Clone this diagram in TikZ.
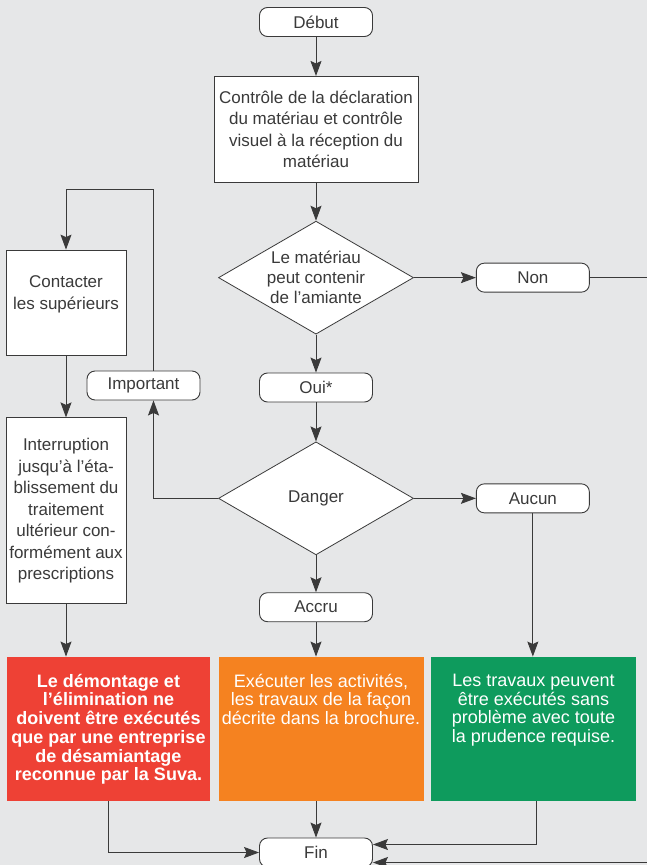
\documentclass[tikz,border=0pt]{standalone}
\usepackage{fontspec}
\setmainfont{Liberation Sans}
\usetikzlibrary{arrows.meta}
\usetikzlibrary{positioning, shapes.geometric, calc}

\definecolor{bg}{HTML}{E6E7E8}
\definecolor{ink}{HTML}{3A3A3A}
\definecolor{warnred}{HTML}{EE4135}
\definecolor{warnorange}{HTML}{F58220}
\definecolor{warngreen}{HTML}{0E9B5D}

% text block pinned to the top of a box
\newcommand{\flowcell}[4]{\parbox[c][#1][t]{#2}{\centering\vspace*{#3}#4}}

\begin{document}
\begin{tikzpicture}[
  x=1pt, y=-1pt,
  -{Stealth[length=15pt,width=11pt,inset=2.5pt]}, line width=0.9pt, draw=ink, color=ink,
  node distance=37pt,
  every node/.style={font=\fontsize{17}{21.5}\selectfont, text=ink},
  term/.style={rectangle, rounded corners=8pt, draw=ink, fill=white, line width=0.9pt,
    minimum width=113pt, minimum height=29pt, inner sep=0pt},
  box/.style={rectangle, draw=ink, fill=white, line width=0.8pt, align=center, inner sep=2pt},
  test/.style={diamond, aspect=1.72, draw=ink, fill=white, line width=0.8pt, align=center,
    inner sep=0pt, minimum width=195pt, minimum height=113pt, font=\fontsize{17}{20}\selectfont},
  colbox/.style={rectangle, minimum height=144pt, inner sep=0pt, text=white,
    font=\fontsize{18}{18.7}\selectfont}
]

\useasboundingbox (0,0) rectangle (647,865);
\fill[bg] (0,0) rectangle (647,865);

% --- Main column ---
\node[term] (start) at (316,22) {Début};
\node[box, minimum width=204pt, minimum height=106pt, below=39pt of start] (chk)
  {Contrôle de la déclaration\\du matériau et contrôle\\visuel à la réception du\\matériau};
\node[test, below=38pt of chk] (q1) {Le matériau\\peut contenir\\de l’amiante};
\node[term, right=62pt of q1] (no) {Non};
\node[term, below=38pt of q1] (yes) {Oui*};
\node[test, below=39pt of yes] (q2) {Danger};
\node[term, right=62pt of q2] (none) {Aucun};
\node[term, below=37pt of q2] (high) {Accru};

% --- Left column ---
\node[box, minimum width=120pt, minimum height=105pt] (boss) at (66,302.5)
  {\flowcell{95pt}{112pt}{21pt}{Contacter\\les supérieurs}};
\node[box, minimum width=120pt, minimum height=186pt, below=62pt of boss] (halt)
  {Interruption\\jusqu’à l’éta-\\blissement du\\traitement\\ultérieur con-\\formément aux\\prescriptions};
\node[term] (imp) at (143.5,385.5) {Important};
\coordinate (topbend) at (0,189);

% --- Outcomes ---
\node[colbox, fill=warnred, minimum width=203pt] (red) at (108.5,729)
  {\flowcell{140pt}{200pt}{15pt}{\bfseries Le démontage et\\l’élimination ne\\doivent être exécutés\\que par une entreprise\\de désamiantage\\reconnue par la Suva.}};
\node[colbox, fill=warnorange, minimum width=205pt] (ora) at (321,729)
  {\flowcell{140pt}{203pt}{15pt}{Exécuter les activités,\\les travaux de la façon\\décrite dans la brochure.}};
\node[colbox, fill=warngreen, minimum width=205pt] (grn) at (533.5,729)
  {\flowcell{140pt}{203pt}{15pt}{Les travaux peuvent\\être exécutés sans\\problème avec toute\\la prudence requise.}};
\node[term] (fin) at (316,852.5) {Fin};

% --- Connectors ---
\draw (start) -- (chk);
\draw (chk) -- (q1);
\draw (q1) -- (no);
\draw (q1) -- (yes);
\draw (yes) -- (q2);
\draw (q2) -- (none);
\draw (q2) -- (high);
\draw (q2.west) -| ([xshift=10pt]imp.south);
\draw ([xshift=10pt]imp.north) |- (boss.north |- topbend) -- (boss.north);
\draw (boss) -- (halt);
\draw (halt.south) -- (halt.south |- red.north);
\draw (high.south) -- (high.south |- ora.north);
\draw (none.south) -- (none.south |- grn.north);
\draw (red.south) |- (fin.west);
\draw (fin.north |- ora.south) -- (fin.north);
\draw ([xshift=3pt]grn.south) |- ([yshift=8pt]fin.east);
\draw (no.east) -- ++(80,0) |- ([yshift=-10pt]fin.east);

\end{tikzpicture}
\end{document}
